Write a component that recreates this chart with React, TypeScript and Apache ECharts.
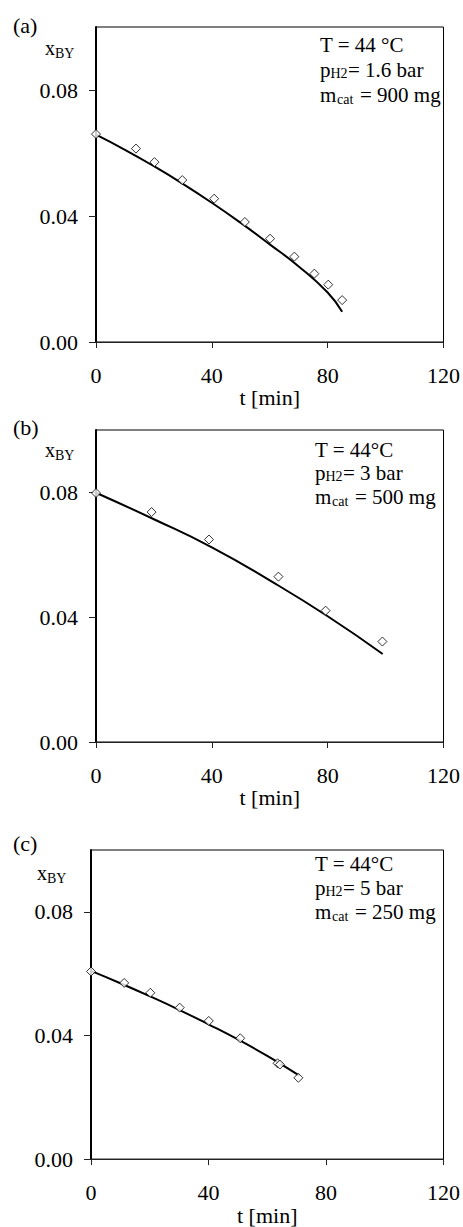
import React, { useEffect, useRef } from "react";
import * as echarts from "echarts";

const FAMILY = "Liberation Serif";

const xTicks = [0, 40, 80, 120];
const yTicks = [0, 0.04, 0.08];

// Panel (a): T = 44 °C, pH2 = 1.6 bar, mcat = 900 mg
const tA = [0, 13.8, 20.2, 29.8, 40.8, 51.4, 60.1, 68.5, 75.4, 80.2, 85.0];
const xA = [0.066, 0.0614, 0.0571, 0.0514, 0.0455, 0.0381, 0.0328, 0.0271, 0.0217, 0.0182, 0.0133];
const tFitA = [0, 10, 20, 30, 40, 50, 60, 70, 80, 85];
const xFitA = [0.0658, 0.061, 0.0558, 0.0502, 0.0442, 0.0378, 0.031, 0.024, 0.0157, 0.0096];

// Panel (b): T = 44 °C, pH2 = 3 bar, mcat = 500 mg
const tB = [0, 19.2, 39.0, 63.0, 79.3, 98.9];
const xB = [0.0798, 0.0737, 0.0649, 0.053, 0.0421, 0.0322];
const tFitB = [0, 20, 40, 60, 80, 99];
const xFitB = [0.0799, 0.0714, 0.0624, 0.0518, 0.0403, 0.0282];

// Panel (c): T = 44 °C, pH2 = 5 bar, mcat = 250 mg
const tC = [0, 11.3, 20.2, 30.2, 40.1, 50.8, 63.5, 64.3, 70.6];
const xC = [0.0607, 0.057, 0.0538, 0.049, 0.0447, 0.0391, 0.031, 0.0306, 0.0263];
const tFitC = [0, 10, 20, 30, 40, 50, 60, 70, 71];
const xFitC = [0.0609, 0.0569, 0.0527, 0.0483, 0.0436, 0.0387, 0.0334, 0.0276, 0.027];

const panelLetters = ["(a)", "(b)", "(c)"];
const pressures = ["= 1.6 bar", "= 3 bar", "= 5 bar"];
const masses = ["= 900 mg", "= 500 mg", "= 250 mg"];
const temps = ["T = 44 \u00B0C", "T = 44\u00B0C", "T = 44\u00B0C"];

const zip = (a: number[], b: number[]) => a.map((v, i) => [v, b[i]]);

function txt(x: number, y: number, text: string, size: number) {
  return {
    type: "text",
    x,
    y,
    silent: true,
    style: {
      text,
      fill: "#000",
      fontSize: size,
      fontFamily: FAMILY,
      font: `${size}px ${FAMILY}`,
      align: "left",
      textAlign: "left",
      verticalAlign: "middle",
      textVerticalAlign: "middle",
    },
  };
}

export default function App() {
  const ref = useRef<HTMLDivElement>(null);
  useEffect(() => {
    const chart = echarts.init(ref.current!, null, { renderer: "svg" });

    const grids = [
      { left: 96, right: 18, top: 27, height: 315 },
      { left: 96, right: 19, top: 430, height: 312 },
      { left: 91, right: 18, top: 850, height: 313 },
    ];

    const scatterData = [zip(tA, xA), zip(tB, xB), zip(tC, xC)];
    const fitData = [zip(tFitA, xFitA), zip(tFitB, xFitB), zip(tFitC, xFitC)];

    const labelStyle = { fontFamily: FAMILY, fontSize: 22, color: "#000", fontStyle: "normal", fontWeight: "normal" };

    const xAxes = grids.map((_, i) => ({
      gridIndex: i,
      type: "value",
      min: 0,
      max: 120,
      interval: 40,
      axisLine: { show: true, onZero: false, lineStyle: { color: "#222", width: 1 } },
      axisTick: { show: true, inside: false, length: 6, customValues: xTicks, lineStyle: { color: "#222" } },
      axisLabel: { margin: 22, customValues: xTicks, ...labelStyle },
      splitLine: { show: false },
      name: "t [min]",
      nameLocation: "middle",
      nameGap: 43,
      nameTextStyle: { ...labelStyle },
    }));

    const yAxes = grids.map((_, i) => ({
      gridIndex: i,
      type: "value",
      min: 0,
      max: 0.1,
      interval: 0.04,
      axisLine: { show: true, onZero: false, lineStyle: { color: "#000", width: 2 } },
      axisTick: { show: true, inside: false, length: 7, customValues: yTicks, lineStyle: { color: "#222" } },
      axisLabel: {
        margin: 18,
        customValues: yTicks,
        formatter: (v: number) => v.toFixed(2),
        ...labelStyle,
      },
      splitLine: { show: false },
    }));

    const series: any[] = [];
    grids.forEach((_, i) => {
      series.push({
        type: "line",
        xAxisIndex: i,
        yAxisIndex: i,
        data: fitData[i],
        smooth: true,
        showSymbol: false,
        lineStyle: { color: "#000", width: 2 },
        z: 2,
      });
      series.push({
        type: "scatter",
        xAxisIndex: i,
        yAxisIndex: i,
        data: scatterData[i],
        symbol: "diamond",
        symbolSize: 9,
        itemStyle: { color: "#fff", borderColor: "#000", borderWidth: 1 },
        z: 3,
      });
    });

    const letterY = [25, 427, 843];
    const labelX = [45, 45, 37];
    const labelY = [48, 450, 873];
    const annX = [320, 315, 315];
    const rowY = [
      [45, 70, 95],
      [450, 473, 497],
      [864, 888, 912],
    ];

    const graphic: any[] = [];
    grids.forEach((_, i) => {
      graphic.push(txt(13, letterY[i], panelLetters[i], 22));
      graphic.push(txt(labelX[i], labelY[i], "x", 20));
      graphic.push(txt(labelX[i] + 10, labelY[i] + 5, "BY", 14));
      const x0 = annX[i];
      const [r1, r2, r3] = rowY[i];
      graphic.push(txt(x0, r1, temps[i], 21));
      graphic.push(txt(x0, r2, "p", 21));
      graphic.push(txt(x0 + 10.5, r2 + 3, "H2", 14));
      graphic.push(txt(x0 + 28, r2, pressures[i], 21));
      graphic.push(txt(x0, r3, "m", 21));
      graphic.push(txt(x0 + 17, r3 + 4, "cat", 14));
      graphic.push(txt(x0 + 40, r3, masses[i], 21));
    });

    chart.setOption({
      animation: false,
      backgroundColor: "#fff",
      textStyle: { fontFamily: FAMILY },
      grid: grids.map((g) => ({
        ...g,
        show: true,
        borderColor: "#000",
        borderWidth: 1,
        backgroundColor: "transparent",
        containLabel: false,
      })),
      xAxis: xAxes,
      yAxis: yAxes,
      series,
      graphic,
    });

    return () => chart.dispose();
  }, []);

  return (
    <div
      ref={ref}
      style={{ position: "absolute", left: 0, top: 0, width: 463, height: 1227, background: "#fff" }}
    />
  );
}
